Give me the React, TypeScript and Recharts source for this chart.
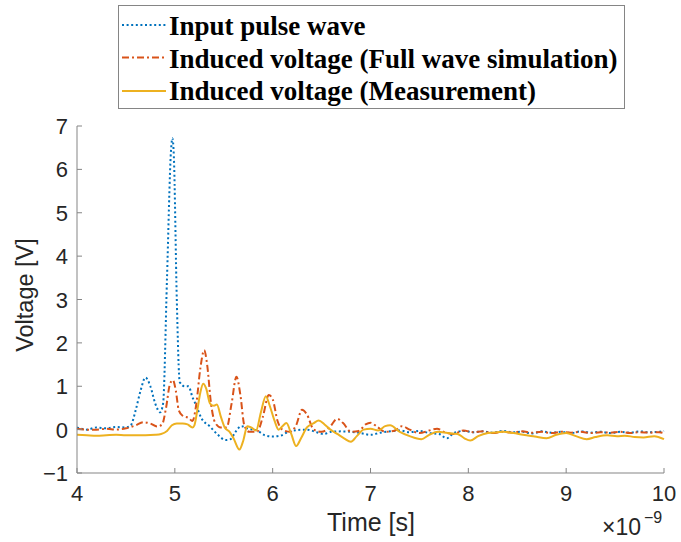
import { LineChart, Line, XAxis, YAxis, Legend, Customized } from 'recharts';

/* ── Data (time in ns, ×10^-9 s) ───────────── */

const pulseTime = [
  4.0, 4.1, 4.2, 4.3, 4.4, 4.5, 4.55, 4.6, 4.65, 4.7, 4.75, 4.8, 4.85, 4.88, 4.92, 4.96,
  4.975, 4.99, 5.02, 5.05, 5.1, 5.14, 5.18, 5.22, 5.27, 5.36, 5.44, 5.52, 5.57, 5.62, 5.68,
  5.75, 5.84, 5.92, 6.0, 6.08, 6.16, 6.25, 6.35, 6.45, 6.52, 6.6, 6.7, 6.8, 6.9, 7.0, 7.1,
  7.2, 7.3, 7.4, 7.5, 7.6, 7.7, 7.78, 7.85, 7.95, 8.05, 8.15, 8.25, 8.35, 8.45, 8.55, 8.65,
  8.75, 8.85, 8.95, 9.05, 9.15, 9.25, 9.35, 9.45, 9.55, 9.65, 9.75, 9.85, 9.95, 10.0,
];
const pulseVolt = [
  0.05, 0.0, 0.05, 0.03, 0.06, 0.05, 0.1, 0.45, 0.9, 1.2, 1.0, 0.6, 0.4, 0.6, 3.5, 6.4,
  6.72, 6.3, 3.0, 1.1, 1.0, 1.0, 0.75, 0.55, 0.27, 0.07, -0.12, -0.24, -0.22, -0.05, 0.08,
  0.02, -0.02, -0.13, -0.16, -0.14, -0.05, -0.01, 0.0, -0.06, -0.1, -0.05, -0.04, -0.05, -0.08, -0.12, -0.07,
  -0.04, -0.02, -0.06, -0.03, -0.08, -0.1, -0.2, -0.08, -0.03, -0.06, -0.04, -0.07, -0.03, -0.06, -0.05, -0.09,
  -0.04, -0.07, -0.05, -0.08, -0.04, -0.07, -0.05, -0.08, -0.05, -0.07, -0.04, -0.06, -0.05, -0.03,
];

const simTime = [
  4.0, 4.1, 4.2, 4.3, 4.4, 4.5, 4.6, 4.68, 4.75, 4.82, 4.87, 4.91, 4.95, 4.98, 5.01, 5.04,
  5.08, 5.14, 5.18, 5.22, 5.26, 5.3, 5.33, 5.37, 5.41, 5.47, 5.53, 5.58, 5.63, 5.67, 5.71,
  5.76, 5.84, 5.9, 5.96, 6.0, 6.05, 6.1, 6.18, 6.24, 6.3, 6.35, 6.42, 6.5, 6.58, 6.66, 6.72,
  6.8, 6.88, 6.95, 7.0, 7.06, 7.15, 7.25, 7.32, 7.4, 7.5, 7.6, 7.68, 7.76, 7.85, 7.95, 8.05,
  8.15, 8.25, 8.35, 8.45, 8.55, 8.65, 8.75, 8.85, 8.95, 9.05, 9.15, 9.25, 9.35, 9.45, 9.55,
  9.65, 9.75, 9.85, 9.95, 10.0,
];
const simVolt = [
  0.02, 0.0, 0.0, 0.02, 0.0, 0.03, 0.1, 0.17, 0.14, 0.07, 0.12, 0.5, 1.05, 1.14, 0.9, 0.45,
  0.32, 0.27, 0.2, 0.6, 1.4, 1.83, 1.5, 0.6, 0.17, 0.05, 0.05, 0.6, 1.22, 0.8, 0.1,
  -0.05, -0.05, 0.3, 0.8, 0.7, 0.2, 0.0, -0.05, 0.1, 0.46, 0.35, 0.0, -0.05, 0.05, 0.25, 0.15,
  -0.05, -0.03, 0.12, 0.16, 0.08, -0.05, -0.02, 0.08, 0.0, -0.08, -0.02, 0.02, -0.06, -0.1, -0.02, -0.06,
  -0.04, -0.08, -0.05, -0.07, -0.04, -0.07, -0.05, -0.08, -0.05, -0.07, -0.05, -0.08, -0.06, -0.07, -0.05,
  -0.08, -0.06, -0.07, -0.06, -0.08,
];

const measTime = [
  4.0, 4.1, 4.2, 4.3, 4.4, 4.5, 4.6, 4.7, 4.8, 4.86, 4.92, 4.97, 5.02, 5.08, 5.13, 5.18,
  5.2, 5.23, 5.26, 5.29, 5.32, 5.36, 5.4, 5.43, 5.47, 5.51, 5.56, 5.6, 5.66, 5.7, 5.74,
  5.78, 5.83, 5.88, 5.93, 5.97, 6.02, 6.06, 6.1, 6.14, 6.19, 6.24, 6.29, 6.35, 6.42, 6.47,
  6.53, 6.59, 6.66, 6.73, 6.8, 6.86, 6.93, 7.0, 7.08, 7.15, 7.2, 7.3, 7.4, 7.52, 7.6,
  7.69, 7.79, 7.89, 7.96, 8.02, 8.1, 8.2, 8.3, 8.36, 8.46, 8.56, 8.68, 8.8, 8.9, 9.0,
  9.1, 9.21, 9.3, 9.42, 9.52, 9.6, 9.7, 9.79, 9.9, 10.0,
];
const measVolt = [
  -0.12, -0.13, -0.14, -0.13, -0.12, -0.13, -0.13, -0.13, -0.12, -0.1, -0.03, 0.1, 0.14, 0.14, 0.12, 0.05,
  0.1, 0.45, 0.85, 1.06, 0.95, 0.6, 0.55, 0.58, 0.3, 0.05, -0.05, -0.2, -0.46, -0.25, 0.08,
  0.05, -0.02, 0.4, 0.77, 0.55, 0.2, 0.0, 0.08, 0.15, -0.1, -0.38, -0.2, 0.05, 0.15, 0.21,
  0.12, 0.0, -0.1, -0.2, -0.28, -0.15, 0.0, 0.02, -0.02, 0.08, 0.1, -0.05, -0.15, -0.22, -0.12,
  -0.05, -0.08, -0.1, -0.2, -0.25, -0.15, -0.08, -0.06, -0.05, -0.08, -0.12, -0.16, -0.2, -0.12, -0.08,
  -0.15, -0.22, -0.17, -0.13, -0.15, -0.14, -0.17, -0.18, -0.15, -0.22,
];

const xTicks = [4, 5, 6, 7, 8, 9, 10];
const yTicks = [-1, 0, 1, 2, 3, 4, 5, 6, 7];

const seriesNames = [
  'Input pulse wave',
  'Induced voltage (Full wave simulation)',
  'Induced voltage (Measurement)',
];

const toPoints = (t: number[], v: number[]) => t.map((time, i) => ({ t: time, v: v[i] }));

/* ── Styling ─────────────────────────────── */

const BLUE = '#0072BD';
const ORANGE = '#D95319';
const YELLOW = '#EDB120';
const AXIS = '#858585';
const TEXT = '#262626';
const SANS = '"Liberation Sans", Arial, Helvetica, sans-serif';
const SERIF = '"Liberation Serif", "Times New Roman", serif';
const DOTTED = '2 2.6';
const DASHDOT = '7 3 2 3';

const fmt = (v: number) => (v < 0 ? `\u2212${Math.abs(v)}` : `${v}`);

/* ── Inward MATLAB-style ticks ───────────── */

function BottomTick({ x, y, payload }: any) {
  return (
    <g>
      <line x1={x} x2={x} y1={y} y2={y - 5} stroke={AXIS} />
      <text x={x} y={y + 27.5} textAnchor="middle" fontSize={22} fontFamily={SANS} fill={TEXT}>
        {fmt(payload.value)}
      </text>
    </g>
  );
}

function TopTick({ x, y }: any) {
  return <line x1={x} x2={x} y1={y} y2={y + 5} stroke={AXIS} />;
}

function LeftTick({ x, y, payload }: any) {
  return (
    <g>
      <line x1={x} x2={x + 5} y1={y} y2={y} stroke={AXIS} />
      <text x={x - 9} y={y + 8} textAnchor="end" fontSize={22} fontFamily={SANS} fill={TEXT}>
        {fmt(payload.value)}
      </text>
    </g>
  );
}

function RightTick({ x, y }: any) {
  return <line x1={x} x2={x - 5} y1={y} y2={y} stroke={AXIS} />;
}

/* ── Axis titles ─────────────────────────── */

function AxisTitles() {
  return (
    <g fontFamily={SANS} fill={TEXT}>
      <text x={371} y={531} textAnchor="middle" fontSize={25}>
        Time [s]
      </text>
      <text x={33} y={295} textAnchor="middle" fontSize={23.5} transform="rotate(-90 33 295)">
        Voltage [V]
      </text>
      <text x={602} y={535} fontSize={23}>
        ×10
      </text>
      <text x={644} y={523} fontSize={16}>
        −9
      </text>
    </g>
  );
}

/* ── Legend box ──────────────────────────── */

function LegendBox() {
  const rows = [
    { name: seriesNames[0], color: BLUE, dash: DOTTED, lineY: 20, textY: 30 },
    { name: seriesNames[1], color: ORANGE, dash: DASHDOT, lineY: 52.5, textY: 62.5 },
    { name: seriesNames[2], color: YELLOW, dash: undefined, lineY: 86, textY: 95 },
  ];
  return (
    <svg width={507} height={104} style={{ display: 'block' }}>
      <rect x={0.5} y={0.5} width={506} height={103} fill="#fff" stroke={AXIS} />
      {rows.map((r) => (
        <g key={r.name}>
          <line x1={4} x2={48} y1={r.lineY} y2={r.lineY} stroke={r.color} strokeWidth={2} strokeDasharray={r.dash} />
          <text x={51} y={r.textY} fontFamily={SERIF} fontWeight="bold" fontSize={27} fill="#000">
            {r.name}
          </text>
        </g>
      ))}
    </svg>
  );
}

/* ── Chart ───────────────────────────────── */

export default function App() {
  return (
    <div style={{ position: 'absolute', left: 0, top: 0, background: '#fff' }}>
      <LineChart width={681} height={542} margin={{ top: 126, right: 17, left: 0, bottom: 0 }}>
        <XAxis
          xAxisId="main"
          type="number"
          dataKey="t"
          domain={[4, 10]}
          ticks={xTicks}
          interval={0}
          height={69}
          tickSize={0}
          tickMargin={0}
          tickLine={false}
          axisLine={{ stroke: AXIS }}
          tick={<BottomTick />}
          allowDuplicatedCategory={false}
        />
        <XAxis
          xAxisId="top"
          orientation="top"
          type="number"
          dataKey="t"
          domain={[4, 10]}
          ticks={xTicks}
          interval={0}
          height={0}
          tickSize={0}
          tickMargin={0}
          tickLine={false}
          axisLine={{ stroke: AXIS }}
          tick={<TopTick />}
        />
        <YAxis
          yAxisId="main"
          type="number"
          domain={[-1, 7]}
          ticks={yTicks}
          interval={0}
          width={77}
          tickSize={0}
          tickMargin={0}
          tickLine={false}
          axisLine={{ stroke: AXIS }}
          tick={<LeftTick />}
        />
        <YAxis
          yAxisId="right"
          orientation="right"
          type="number"
          domain={[-1, 7]}
          ticks={yTicks}
          interval={0}
          width={0}
          tickSize={0}
          tickMargin={0}
          tickLine={false}
          axisLine={{ stroke: AXIS }}
          tick={<RightTick />}
        />
        <Line
          xAxisId="main"
          yAxisId="main"
          data={toPoints(pulseTime, pulseVolt)}
          dataKey="v"
          name={seriesNames[0]}
          type="monotone"
          stroke={BLUE}
          strokeWidth={2}
          strokeDasharray={DOTTED}
          dot={false}
          activeDot={false}
          isAnimationActive={false}
        />
        <Line
          xAxisId="main"
          yAxisId="main"
          data={toPoints(simTime, simVolt)}
          dataKey="v"
          name={seriesNames[1]}
          type="monotone"
          stroke={ORANGE}
          strokeWidth={2}
          strokeDasharray={DASHDOT}
          dot={false}
          activeDot={false}
          isAnimationActive={false}
        />
        <Line
          xAxisId="main"
          yAxisId="main"
          data={toPoints(measTime, measVolt)}
          dataKey="v"
          name={seriesNames[2]}
          type="monotone"
          stroke={YELLOW}
          strokeWidth={2}
          dot={false}
          activeDot={false}
          isAnimationActive={false}
        />
        <Customized component={AxisTitles} />
        <Legend
          verticalAlign="middle"
          align="center"
          layout="horizontal"
          content={() => <LegendBox />}
          wrapperStyle={{ top: 5, left: 118, width: 507, height: 104 }}
        />
      </LineChart>
    </div>
  );
}
